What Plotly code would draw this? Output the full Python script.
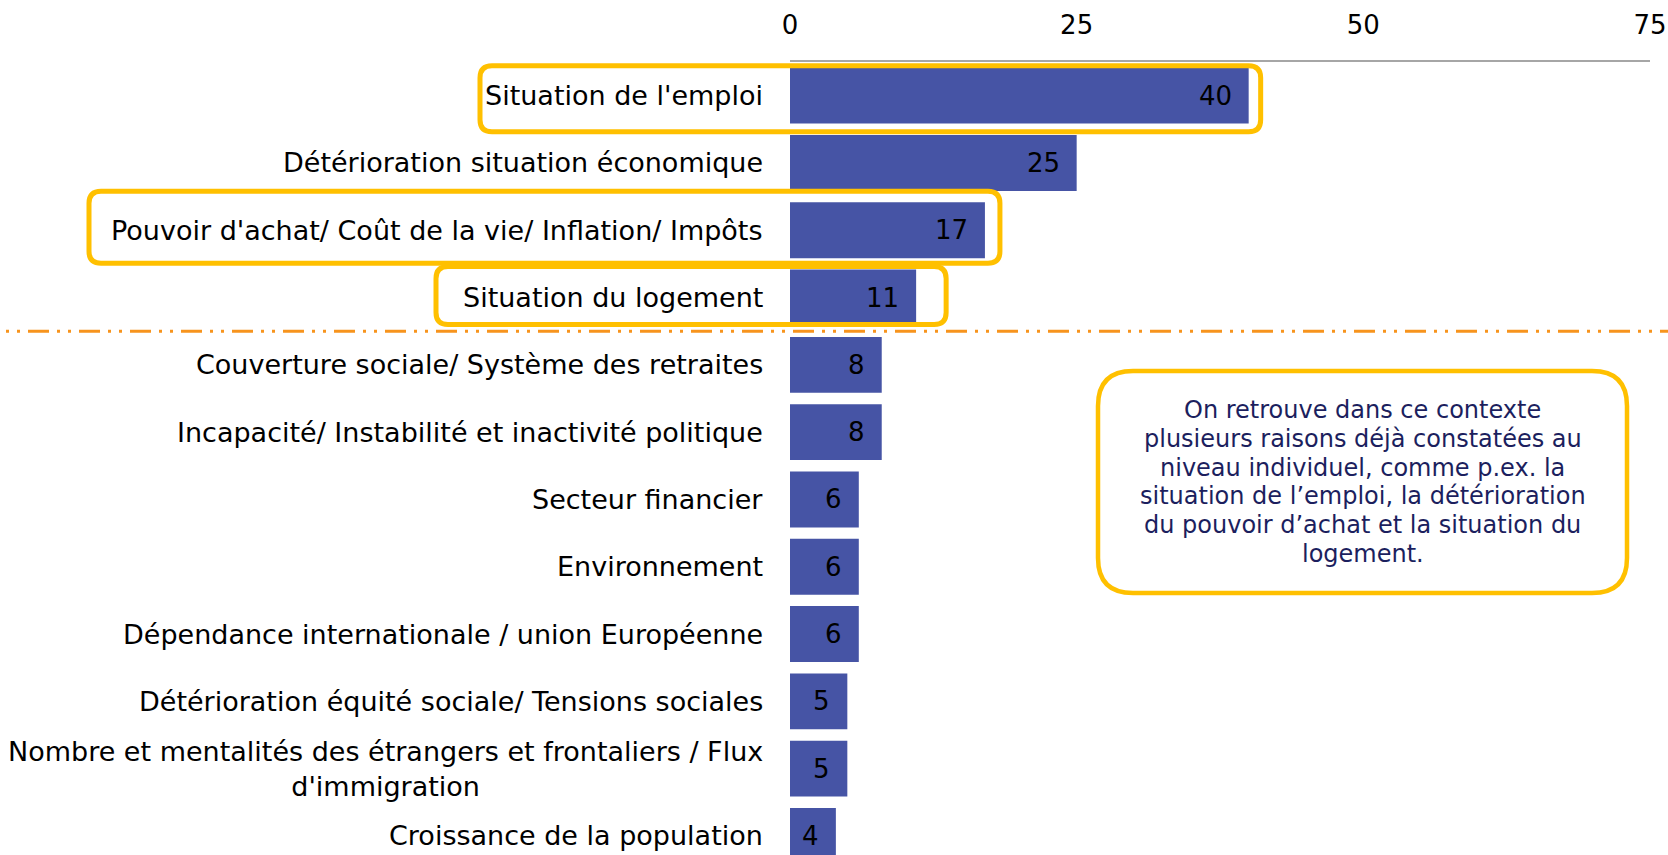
import plotly.graph_objects as go

categories = [
    "Situation de l'emploi",
    "Détérioration situation économique",
    "Pouvoir d'achat/ Coût de la vie/ Inflation/ Impôts",
    "Situation du logement",
    "Couverture sociale/ Système des retraites",
    "Incapacité/ Instabilité et inactivité politique",
    "Secteur financier",
    "Environnement",
    "Dépendance internationale / union Européenne",
    "Détérioration équité sociale/ Tensions sociales",
    "Nombre et mentalités des étrangers et frontaliers / Flux<br>d'immigration",
    "Croissance de la population",
]
values = [40, 25, 17, 11, 8, 8, 6, 6, 6, 5, 5, 4]
tick_values = [0, 25, 50, 75]
highlighted = [0, 2, 3]
note_lines = [
    "On retrouve dans ce contexte",
    "plusieurs raisons déjà constatées au",
    "niveau individuel, comme p.ex. la",
    "situation de l’emploi, la détérioration",
    "du pouvoir d’achat et la situation du",
    "logement.",
]

W, H = 1668, 855
ML, MR, MT, MB = 790, 18, 62, 0
XMAX = 75
PLOT_W = W - ML - MR
PLOT_H = H - MT - MB
PX = PLOT_W / XMAX          # pixels per unit on x
ROW = 67.3                  # pixels per category row
YSPAN = PLOT_H / ROW

BAR = "#4654A5"
GOLD = "#FFC000"
ORANGE = "#F7941D"
FONT = "DejaVu Sans"


def rounded(x0, y0, x1, y1, r):
    # y0 = top, y1 = bottom (pixels, up positive)
    return (f"M {x0 + r},{y0} L {x1 - r},{y0} Q {x1},{y0} {x1},{y0 - r} "
            f"L {x1},{y1 + r} Q {x1},{y1} {x1 - r},{y1} L {x0 + r},{y1} "
            f"Q {x0},{y1} {x0},{y1 + r} L {x0},{y0 - r} Q {x0},{y0} {x0 + r},{y0} Z")


rows = list(range(len(categories)))

fig = go.Figure(go.Bar(
    x=values, y=rows, orientation="h",
    marker=dict(color=BAR, line=dict(width=0)),
    width=0.83, hoverinfo="skip",
))

# category labels (centred multi-line like the original)
for i, c in enumerate(categories):
    fig.add_annotation(x=0, xref="paper", y=i, yref="y", text=c, showarrow=False,
                       xanchor="right", xshift=-25, align="center",
                       font=dict(family=FONT, size=27, color="#000000"))
# value labels inside bars
for i, v in enumerate(values):
    fig.add_annotation(x=v, xref="x", y=i, yref="y", text=str(v), showarrow=False,
                       xanchor="right", xshift=-15,
                       font=dict(family=FONT, size=26, color="#000000"))

# highlight frames: (left px from axis start, pad past bar end, top, bottom)
frame_geom = {0: (-310, 12, 30, -36), 2: (-701, 15, 39, -33), 3: (-354, 30, 31, -27)}
for i in highlighted:
    left, pad, top, bot = frame_geom[i]
    right = values[i] * PX + pad
    fig.add_shape(type="path", xref="paper", yref="y",
                  xsizemode="pixel", ysizemode="pixel", xanchor=0, yanchor=i,
                  path=rounded(left, top, right, bot, 12),
                  line=dict(color=GOLD, width=5), fillcolor="rgba(0,0,0,0)")

# separator between top 4 and the rest
fig.add_shape(type="line", xref="paper", yref="y", xsizemode="pixel", xanchor=0,
              x0=-ML - 23, x1=W - ML, y0=3.5, y1=3.5,
              line=dict(color=ORANGE, width=3, dash="21px,8px,3px,8px,3px,8px"))

# note box
bx0, bx1, by0, by1 = 308, 837, -309, -531
fig.add_shape(type="path", xref="paper", yref="paper",
              xsizemode="pixel", ysizemode="pixel", xanchor=0, yanchor=1,
              path=rounded(bx0, by0, bx1, by1, 35),
              line=dict(color=GOLD, width=4.5), fillcolor="white")
line_gap = 28.7
cy = (by0 + by1) / 2
for k, ln in enumerate(note_lines):
    off = cy - (k - (len(note_lines) - 1) / 2) * line_gap
    fig.add_annotation(xref="paper", yref="paper",
                       x=(bx0 + bx1) / 2 / PLOT_W, y=1 + off / PLOT_H,
                       text=ln, showarrow=False, xanchor="center", yanchor="middle",
                       font=dict(family=FONT, size=24, color="#1C1F5E"))

fig.update_layout(
    width=W, height=H,
    margin=dict(l=ML, r=MR, t=MT, b=MB),
    plot_bgcolor="white", paper_bgcolor="white",
    showlegend=False,
    xaxis=dict(side="top", range=[0, XMAX], tickvals=tick_values,
               showgrid=False, zeroline=False, showline=True,
               linecolor="#A6A6A6", linewidth=1.5, ticks="",
               ticklabelstandoff=16,
               tickfont=dict(family=FONT, size=26, color="#000000")),
    yaxis=dict(range=[-0.5 + YSPAN, -0.5], autorange=False,
               showticklabels=False, showgrid=False, zeroline=False,
               showline=False, ticks=""),
)

# drop the default body margin so the figure fills the window exactly
fig.write_html("out.html", config={"displayModeBar": False},
               post_script="document.body.style.margin='0';")
